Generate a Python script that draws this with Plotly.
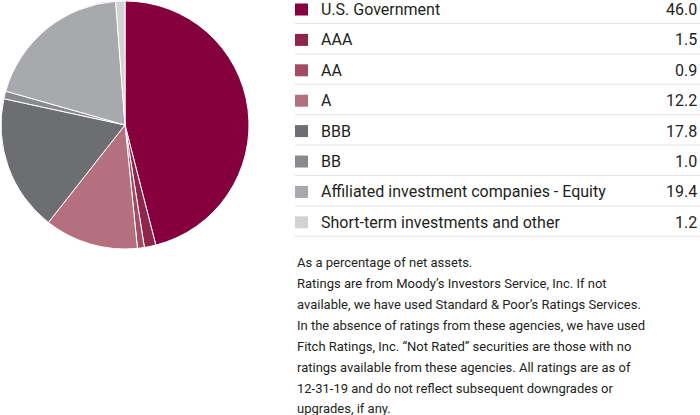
import plotly.graph_objects as go

categories = ["U.S. Government", "AAA", "AA", "A", "BBB", "BB",
              "Affiliated investment companies - Equity",
              "Short-term investments and other"]
values = [46.0, 1.5, 0.9, 12.2, 17.8, 1.0, 19.4, 1.2]
value_labels = ["46.0", "1.5", "0.9", "12.2", "17.8", "1.0", "19.4", "1.2"]
colors = ["#85003D", "#8F2649", "#A24C64", "#B5707F",
          "#6D6E71", "#898A8D", "#A7A9AC", "#D0D2D4"]
footnotes = [
    "As a percentage of net assets.",
    "Ratings are from Moody\u2019s Investors Service, Inc. If not",
    "available, we have used Standard & Poor\u2019s Ratings Services.",
    "In the absence of ratings from these agencies, we have used",
    "Fitch Ratings, Inc. \u201cNot Rated\u201d securities are those with no",
    "ratings available from these agencies. All ratings are as of",
    "12-31-19 and do not reflect subsequent downgrades or",
    "upgrades, if any.",
]

W, H = 700, 415
FONT = "Roboto"
TXT = "#231F20"

def px(x):
    return x / W

def py(y):
    return 1 - y / H

fig = go.Figure()
fig.add_trace(go.Pie(
    labels=categories, values=values, sort=False, direction="clockwise",
    rotation=0, textinfo="none", hoverinfo="label+value",
    marker=dict(colors=colors, line=dict(color="white", width=1)),
    domain=dict(x=[px(1), px(249)], y=[py(249), py(1)]),
    showlegend=False,
))

shapes = []
annotations = []
row0, step = 9.5, 30.4
for i, (cat, val, col) in enumerate(zip(categories, value_labels, colors)):
    yc = row0 + i * step
    shapes.append(dict(type="rect", xref="paper", yref="paper",
                       x0=px(295), x1=px(308), y0=py(yc - 6), y1=py(yc + 6),
                       fillcolor=col, line=dict(width=0)))
    ys = yc + 14
    shapes.append(dict(type="line", xref="paper", yref="paper",
                       x0=px(295), x1=px(700), y0=py(ys), y1=py(ys),
                       line=dict(color="#E3E3E3", width=1)))
    annotations.append(dict(text=cat, x=px(319), y=py(yc), xref="paper", yref="paper",
                            xanchor="left", yanchor="middle", showarrow=False,
                            font=dict(family=FONT, size=16, color=TXT)))
    annotations.append(dict(text=val, x=px(699), y=py(yc), xref="paper", yref="paper",
                            xanchor="right", yanchor="middle", showarrow=False,
                            font=dict(family=FONT, size=16, color=TXT)))

fy = [262, 283.5, 304.5, 325.5, 346.5, 367.5, 388, 408.5]
for t, y in zip(footnotes, fy):
    annotations.append(dict(text=t, x=px(295), y=py(y), xref="paper", yref="paper",
                            xanchor="left", yanchor="middle", showarrow=False,
                            font=dict(family=FONT, size=13, color=TXT)))

fig.update_layout(
    width=W, height=H, margin=dict(l=0, r=0, t=0, b=0),
    paper_bgcolor="white", plot_bgcolor="white",
    shapes=shapes, annotations=annotations,
)
fig.write_html("out.html", config={"displayModeBar": False})

with open("out.html", "r", encoding="utf-8") as f:
    html = f.read()
html = html.replace("<body>", '<body style="margin:0;padding:0;overflow:hidden;">', 1)
with open("out.html", "w", encoding="utf-8") as f:
    f.write(html)
